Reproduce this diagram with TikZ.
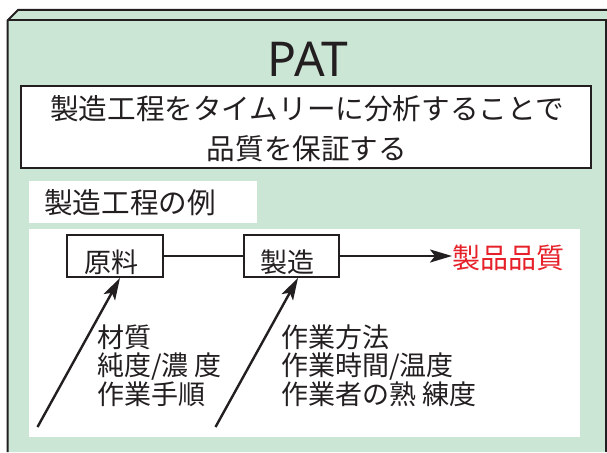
\documentclass[tikz,border=0pt]{standalone}
\usepackage{fontspec}
\setmainfont{Noto Sans CJK JP}
\newfontfamily\latinsans{Noto Sans}
\usetikzlibrary{arrows.meta}
\definecolor{bggreen}{HTML}{CCE6D5}
\definecolor{redtext}{HTML}{E62129}
\definecolor{inkgray}{HTML}{231F20}
\tikzset{
  frameline/.style={draw=inkgray, line width=2pt},
  descbox/.style={draw=inkgray, fill=white, line width=1.8pt, inner sep=0pt},
  whitepanel/.style={fill=white, inner sep=0pt},
  procbox/.style={draw=inkgray, fill=white, line width=1.8pt, minimum height=42pt, inner sep=0pt},
  jptext/.style={inner sep=0pt, text=inkgray},
  conn/.style={draw=inkgray, line width=2.4pt},
  arrowconn/.style={draw=inkgray, line width=2.4pt, -{Stealth[length=22pt,width=13pt,inset=5pt]}},
}
\begin{document}
\begin{tikzpicture}[x=1pt,y=-1pt]
\useasboundingbox (0,0) rectangle (607,452);
% 3D frame
\fill[bggreen] (7.5,20.5) -- (18,10) -- (607,10) -- (607,452) -- (7.5,452) -- cycle;
\draw[frameline] (7.5,452) -- (7.5,20.5) -- (18,10) -- (607,10);
\draw[frameline] (7.5,20.5) -- (605.5,20.5) -- (605.5,452);
% title
\node[inner sep=0pt, anchor=base, text=inkgray, font=\latinsans\fontsize{48}{48}\selectfont] (pat) at (308,76) {PAT};
% description box
\node[descbox, minimum width=570pt, minimum height=82pt] (desc) at (306,127) {};
\node[jptext, align=center, font=\fontsize{28.6}{40}\selectfont] (desctext) at (307,129) {製造工程をタイムリーに分析することで\\品質を保証する};
% label
\node[whitepanel, minimum width=228pt, minimum height=42pt] (lblbox) at (143,202) {};
\node[jptext, anchor=west, font=\fontsize{28.6}{28.6}\selectfont] (lbl) at (44,203) {製造工程の例};
% white panel
\node[whitepanel, minimum width=551pt, minimum height=208pt] (panel) at (304.5,333) {};
% process boxes
\node[procbox, minimum width=96pt] (rm) at (115,256) {};
\node[jptext, font=\fontsize{27}{27}\selectfont] (rmtext) at ([xshift=-3.5pt,yshift=-6pt]rm.center) {原料};
\node[procbox, minimum width=95pt] (mf) at (291.5,256) {};
\node[jptext, font=\fontsize{27}{27}\selectfont] (mftext) at ([xshift=-4.5pt,yshift=-6pt]mf.center) {製造};
\node[inner sep=0pt, anchor=west, text=redtext, font=\fontsize{28}{28}\selectfont] (prod) at (452,258) {製品品質};
% connectors
\draw[conn] (rm.east) -- (mf.west);
\draw[arrowconn] (mf.east) -- (mf.east -| prod.west);
\coordinate (a1) at (37.5,427);
\coordinate (a2) at (215.5,427);
\draw[arrowconn] (a1) -- ([xshift=5pt]rm.south);
\draw[arrowconn] (a2) -- ([xshift=6.5pt]mf.south);
% factor texts
\node[jptext, anchor=west, align=left, font=\fontsize{27}{28.3}\selectfont] (f1) at (97,365.5) {材質\\純度/濃 度\\作業手順};
\node[jptext, anchor=west, align=left, font=\fontsize{27}{28.3}\selectfont] (f2) at (281,365.5) {作業方法\\作業時間/温度\\作業者の熟 練度};
\end{tikzpicture}
\end{document}
